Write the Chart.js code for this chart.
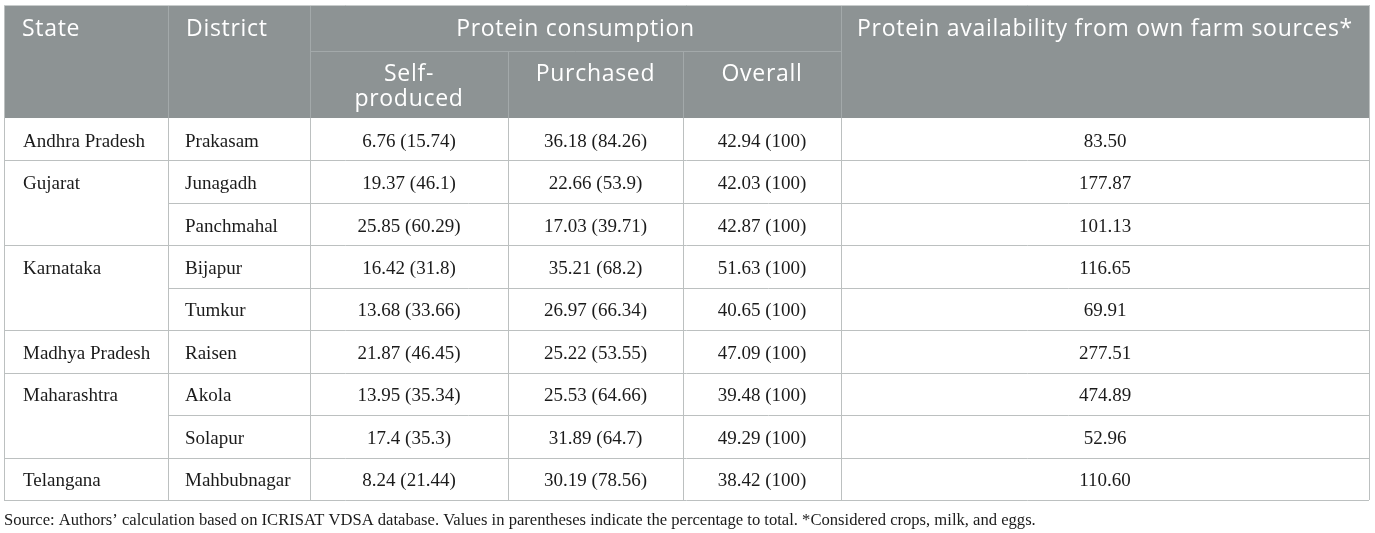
<!DOCTYPE html>
<html>
<head>
<meta charset="utf-8">
<script src="https://cdn.jsdelivr.net/npm/chart.js@4.4.1/dist/chart.umd.min.js"></script>
<style>
  html, body { margin: 0; padding: 0; background: #ffffff; }
  #wrap { width: 1375px; height: 533px; position: relative; }
</style>
</head>
<body>
<div id="wrap"><canvas id="protein-table"></canvas></div>
<script>
// table data
const states = ['Andhra Pradesh', 'Gujarat', 'Karnataka', 'Madhya Pradesh', 'Maharashtra', 'Telangana'];
const stateSpans = [1, 2, 2, 1, 2, 1];
const districts = ['Prakasam', 'Junagadh', 'Panchmahal', 'Bijapur', 'Tumkur', 'Raisen', 'Akola', 'Solapur', 'Mahbubnagar'];
const selfProduced = [6.76, 19.37, 25.85, 16.42, 13.68, 21.87, 13.95, 17.4, 8.24];
const selfProducedPct = [15.74, 46.1, 60.29, 31.8, 33.66, 46.45, 35.34, 35.3, 21.44];
const purchased = [36.18, 22.66, 17.03, 35.21, 26.97, 25.22, 25.53, 31.89, 30.19];
const purchasedPct = [84.26, 53.9, 39.71, 68.2, 66.34, 53.55, 64.66, 64.7, 78.56];
const overall = [42.94, 42.03, 42.87, 51.63, 40.65, 47.09, 39.48, 49.29, 38.42];
const overallPct = [100, 100, 100, 100, 100, 100, 100, 100, 100];
const availability = [83.50, 177.87, 101.13, 116.65, 69.91, 277.51, 474.89, 52.96, 110.60];

const headTop = ['State', 'District', 'Protein consumption', 'Protein availability from own farm sources*'];
const headSub = [['Self-', 'produced'], ['Purchased'], ['Overall']];
const sourceNote = 'Source: Authors\u2019 calculation based on ICRISAT VDSA database. Values in parentheses indicate the percentage to total. *Considered crops, milk, and eggs.';

// layout (scale units)
const colEdges = [0, 164, 306, 504, 679, 837, 1365];
const head1 = 46, head2 = 113, rowH = 42.44;
const tableH = head2 + rowH * districts.length;

let colors = {
    head: '#8d9394',
    headLine: '#a3a9aa',
    line: '#bcc0c0',
    text: '#1b1b1b'
};
const serif = '"Liberation Serif", "DejaVu Serif", serif';
const sans = '"Open Sans", "Noto Sans", sans-serif';

function cellText(v, p) { return v + ' (' + p + ')'; }

const tablePlugin = {
    id: 'tablePlugin',
    afterDraw(chart) {
        const ctx = chart.ctx;
        const xs = chart.scales.x, ys = chart.scales.y;
        const px = v => xs.getPixelForValue(v);
        const py = v => ys.getPixelForValue(v);
        const rowTop = i => head2 + i * rowH;
        const hline = (y, x0, x1, c) => {
            ctx.strokeStyle = c; ctx.lineWidth = 1;
            ctx.beginPath();
            ctx.moveTo(px(x0), Math.round(py(y)) + 0.5);
            ctx.lineTo(px(x1), Math.round(py(y)) + 0.5);
            ctx.stroke();
        };
        const vline = (x, y0, y1, c) => {
            ctx.strokeStyle = c; ctx.lineWidth = 1;
            ctx.beginPath();
            ctx.moveTo(Math.round(px(x)) + 0.5, py(y0));
            ctx.lineTo(Math.round(px(x)) + 0.5, py(y1));
            ctx.stroke();
        };
        const last = colEdges.length - 1;

        ctx.save();
        // header background
        ctx.fillStyle = colors.head;
        ctx.fillRect(px(0), py(0), px(colEdges[last]) - px(0), py(head2) - py(0));

        // header lines
        [1, 2, 5].forEach(c => vline(colEdges[c], 0, head2, colors.headLine));
        [3, 4].forEach(c => vline(colEdges[c], head1, head2, colors.headLine));
        hline(head1, colEdges[2], colEdges[5], colors.headLine);

        // body lines
        for (let c = 1; c < last; c++) vline(colEdges[c], head2, tableH, colors.line);
        let r = 0;
        stateSpans.forEach(span => {
            for (let k = 1; k < span; k++) hline(rowTop(r + k), colEdges[1], colEdges[last], colors.line);
            r += span;
            hline(rowTop(r), colEdges[0], colEdges[last], colors.line);
        });
        // outer border
        vline(colEdges[0], 0, tableH, colors.line);
        vline(colEdges[last], 0, tableH, colors.line);
        hline(0, colEdges[0], colEdges[last], '#c8cccc');

        // header text
        ctx.fillStyle = '#ffffff';
        ctx.font = '23px ' + sans;
        ctx.letterSpacing = '0.7px';
        ctx.textBaseline = 'middle';
        const midTop = head1 / 2 + 1;
        ctx.textAlign = 'left';
        ctx.fillText(headTop[0], px(colEdges[0] + 18), py(midTop));
        ctx.fillText(headTop[1], px(colEdges[1] + 18), py(midTop));
        ctx.textAlign = 'center';
        ctx.fillText(headTop[2], px((colEdges[2] + colEdges[5]) / 2), py(midTop));
        ctx.fillText(headTop[3], px((colEdges[5] + colEdges[6]) / 2), py(midTop));
        headSub.forEach((lines, i) => {
            const cx = (colEdges[2 + i] + colEdges[3 + i]) / 2;
            lines.forEach((t, j) => ctx.fillText(t, px(cx), py(head1 + 23 + j * 25)));
        });
        ctx.letterSpacing = '0px';

        // body text
        ctx.fillStyle = colors.text;
        ctx.font = '19px ' + serif;
        const mid = rowH / 2 + 2.5;
        r = 0;
        states.forEach((s, i) => {
            ctx.textAlign = 'left';
            ctx.fillText(s, px(colEdges[0] + 19), py(rowTop(r) + mid));
            r += stateSpans[i];
        });
        districts.forEach((d, i) => {
            const y = py(rowTop(i) + mid);
            ctx.textAlign = 'left';
            ctx.fillText(d, px(colEdges[1] + 17), y);
            ctx.textAlign = 'center';
            const vals = [
                cellText(selfProduced[i], selfProducedPct[i]),
                cellText(purchased[i], purchasedPct[i]),
                cellText(overall[i], overallPct[i]),
                availability[i].toFixed(2)
            ];
            vals.forEach((t, c) => ctx.fillText(t, px((colEdges[2 + c] + colEdges[3 + c]) / 2), y));
        });

        // source note
        ctx.textAlign = 'left';
        ctx.font = '16.6px ' + serif;
        ctx.fillText(sourceNote, px(0), py(tableH + 21));
        ctx.restore();
    }
};

let ctx = document.getElementById('protein-table').getContext('2d');
window.proteinTable = new Chart(ctx, {
    type: 'scatter',
    data: { datasets: [{ data: [] }] },
    options: {
        responsive: true,
        maintainAspectRatio: false,
        animation: false,
        layout: { padding: { left: 4, top: 5, right: 6, bottom: 33 } },
        plugins: { legend: { display: false }, tooltip: { enabled: false } },
        scales: {
            x: { type: 'linear', display: false, min: 0, max: colEdges[colEdges.length - 1] },
            y: { type: 'linear', display: false, min: 0, max: tableH, reverse: true }
        }
    },
    plugins: [tablePlugin]
});
</script>
</body>
</html>
